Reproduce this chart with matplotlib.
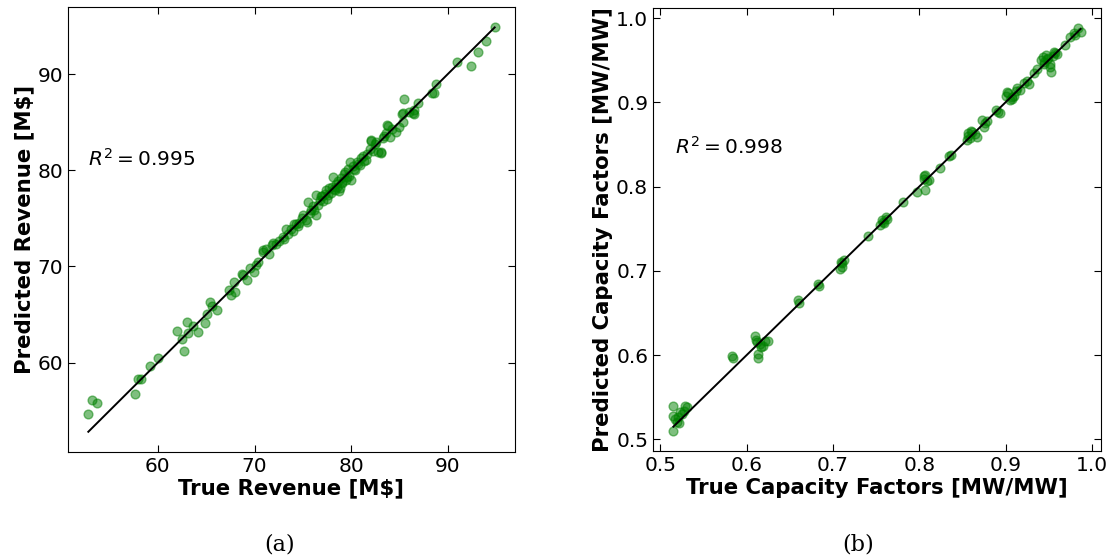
import numpy as np
import matplotlib.pyplot as plt

# revenue surrogate: true vs predicted [M$]
rev_true = [52.8, 53.2, 53.7, 57.6, 57.9, 58.3, 59.2, 60.0, 62.0, 62.5, 62.7, 63.0,
            63.1, 63.65, 64.1, 64.9, 65.1, 65.4, 65.55, 66.1, 67.4, 67.6, 67.9, 68.0,
            68.7, 68.8, 69.2, 69.5, 69.9, 70.4, 70.9, 70.9, 71.2, 71.8, 71.9, 72.5,
            72.9, 73.3, 73.5, 73.8, 74.0, 74.1, 74.3, 74.6, 74.9, 75.0, 75.3, 75.4,
            75.5, 75.8, 76.0, 76.2, 76.4, 76.4, 76.6, 76.9, 77.1, 77.3, 77.4, 77.5,
            77.7, 77.9, 78.1, 78.2, 78.4, 78.5, 78.7, 78.8, 78.9, 79.1, 79.3, 79.5,
            79.7, 79.8, 79.9, 80.0, 80.2, 80.4, 80.6, 80.9, 81.2, 81.5, 81.6, 81.9,
            82.1, 82.1, 82.3, 82.6, 82.8, 83.1, 83.1, 83.3, 83.4, 83.7, 83.8, 84.0,
            84.2, 84.6, 84.9, 85.3, 85.4, 85.4, 85.5, 86.4, 86.5, 86.5, 86.9, 88.4,
            88.6, 88.8, 90.9, 92.4, 93.1, 93.9, 94.85,
            # extra points in the dense band
            70.2, 71.5, 72.2, 73.0, 74.5, 75.7, 76.8, 77.0, 77.6, 78.0, 78.3, 78.6,
            79.0, 79.4, 79.6, 80.3, 80.7, 81.0, 81.3, 82.5, 83.6, 86.0]
rev_pred = [54.6, 56.1, 55.8, 56.7, 58.3, 58.3, 59.6, 60.5, 63.3, 62.4, 61.2, 64.2,
            63.05, 63.75, 63.2, 64.1, 65.0, 66.3, 65.9, 65.5, 67.5, 67.0, 68.4, 67.3,
            69.2, 69.1, 68.6, 69.8, 69.4, 70.5, 71.5, 71.7, 71.8, 72.2, 72.4, 72.6,
            73.1, 73.9, 73.4, 73.9, 73.7, 74.4, 74.4, 74.5, 75.0, 75.3, 74.8, 74.6,
            76.7, 75.9, 76.3, 75.9, 75.3, 77.4, 76.4, 77.3, 76.8, 77.5, 77.9, 77.0,
            78.1, 77.6, 79.3, 78.0, 78.6, 78.3, 77.8, 78.1, 79.2, 78.7, 79.6, 79.0,
            80.1, 79.4, 80.9, 79.0, 80.4, 80.0, 80.9, 80.5, 81.5, 81.1, 81.7, 82.2,
            83.1, 83.05, 82.0, 82.9, 81.9, 81.9, 81.8, 83.3, 83.6, 84.7, 84.6, 83.5,
            84.3, 84.0, 84.5, 85.8, 85.9, 85.0, 87.4, 85.9, 86.25, 85.8, 87.0, 88.0,
            88.05, 88.96, 91.3, 90.8, 92.3, 93.4, 94.87,
            70.1, 71.3, 72.3, 72.8, 74.2, 75.5, 76.9, 77.3, 77.4, 78.3, 77.9, 78.9,
            78.8, 79.8, 79.3, 80.1, 80.6, 81.3, 81.0, 82.7, 83.9, 86.1]

# capacity factor surrogate: true vs predicted [MW/MW]
cf_true = [0.515, 0.515, 0.515, 0.517, 0.519, 0.521, 0.523, 0.525, 0.529, 0.531,
           0.583, 0.584, 0.610, 0.611, 0.613, 0.613, 0.615, 0.617, 0.621, 0.625,
           0.659, 0.661, 0.683, 0.684, 0.708, 0.710, 0.711, 0.713, 0.741, 0.755,
           0.757, 0.759, 0.761, 0.763, 0.781, 0.797, 0.805, 0.807, 0.807, 0.809,
           0.811, 0.824, 0.835, 0.837, 0.855, 0.857, 0.859, 0.861, 0.864, 0.867,
           0.873, 0.875, 0.879, 0.889, 0.891, 0.893, 0.901, 0.903, 0.905, 0.907,
           0.910, 0.913, 0.917, 0.921, 0.925, 0.927, 0.933, 0.937, 0.941, 0.943,
           0.945, 0.947, 0.949, 0.951, 0.953, 0.955, 0.957, 0.960, 0.969, 0.975,
           0.979, 0.984, 0.987,
           # extra points in the dense clusters
           0.520, 0.527, 0.612, 0.619, 0.709, 0.758, 0.806, 0.856, 0.860, 0.876,
           0.902, 0.908, 0.912, 0.944, 0.948, 0.952, 0.956, 0.981]
cf_pred = [0.540, 0.528, 0.510, 0.524, 0.520, 0.519, 0.532, 0.530, 0.540, 0.538,
           0.599, 0.596, 0.623, 0.618, 0.601, 0.597, 0.613, 0.609, 0.617, 0.617,
           0.665, 0.662, 0.684, 0.682, 0.702, 0.709, 0.705, 0.713, 0.741, 0.754,
           0.760, 0.757, 0.764, 0.762, 0.782, 0.794, 0.812, 0.796, 0.814, 0.806,
           0.808, 0.822, 0.836, 0.838, 0.855, 0.863, 0.858, 0.865, 0.862, 0.859,
           0.879, 0.871, 0.878, 0.891, 0.889, 0.887, 0.907, 0.911, 0.903, 0.906,
           0.908, 0.917, 0.915, 0.923, 0.925, 0.922, 0.935, 0.940, 0.950, 0.954,
           0.948, 0.956, 0.952, 0.942, 0.936, 0.955, 0.958, 0.957, 0.968, 0.978,
           0.982, 0.988, 0.984,
           0.526, 0.534, 0.615, 0.611, 0.711, 0.758, 0.809, 0.860, 0.866, 0.875,
           0.912, 0.904, 0.913, 0.945, 0.951, 0.946, 0.960, 0.980]

fig = plt.figure(figsize=(11.09, 5.58), dpi=100)
W, H = 1109, 558

def panel(box, xt, yp, r2, r2_xy, xlabel, ylabel, ticks):
    x0, x1, y0, y1 = box
    ax = fig.add_axes([x0 / W, 1 - y1 / H, (x1 - x0) / W, (y1 - y0) / H])
    ax.scatter(xt, yp, s=40, color='green', alpha=0.5)
    lo, hi = min(xt), max(xt)
    ax.plot([lo, hi], [lo, hi], color='black', lw=1.4)
    ax.text(r2_xy[0], r2_xy[1], r'$R^2 = %s$' % r2, fontsize=14.5, va='center')
    ax.set_xticks(ticks)
    ax.set_yticks(ticks)
    ax.tick_params(direction='in', top=True, right=True, labelsize=14.5, length=5)
    ax.set_xlabel(xlabel, fontsize=15.3, fontweight='bold', labelpad=2)
    ax.set_ylabel(ylabel, fontsize=15.3, fontweight='bold', labelpad=2)
    return ax

panel((68, 515, 7, 452), rev_true, rev_pred, '0.995', (52.8, 81.2),
      'True Revenue [M$]', 'Predicted Revenue [M$]', [60, 70, 80, 90])
panel((653, 1101, 8, 451), cf_true, cf_pred, '0.998', (0.517, 0.847),
      'True Capacity Factors [MW/MW]', 'Predicted Capacity Factors [MW/MW]',
      [0.5, 0.6, 0.7, 0.8, 0.9, 1.0])

fig.text(280 / W, 1 - 545 / H, '(a)', fontsize=16, family='DejaVu Serif',
         ha='center', va='center')
fig.text(858 / W, 1 - 545 / H, '(b)', fontsize=16, family='DejaVu Serif',
         ha='center', va='center')

plt.savefig('out.png', dpi=100)
